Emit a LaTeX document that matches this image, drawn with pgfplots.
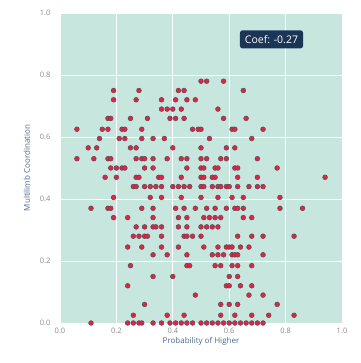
\documentclass[border=0pt]{standalone}
\usepackage{pgfplots}
\pgfplotsset{compat=1.18}
\usepackage{pgfplotstable}
\usepackage{fontspec}
\setmainfont{Open Sans}
\definecolor{bgc}{HTML}{C6E6DE}
\definecolor{ptc}{HTML}{E0234A}
\definecolor{ptl}{HTML}{5A4A50}
\definecolor{boxc}{HTML}{1B3556}
\definecolor{labc}{HTML}{4A6A8A}
\definecolor{tickc}{HTML}{8A8A8A}
\pgfplotstableread{
x y
0.50 0.78
0.52 0.78
0.58 0.78
0.19 0.75
0.28 0.75
0.42 0.75
0.44 0.75
0.65 0.75
0.19 0.72
0.27 0.72
0.36 0.72
0.41 0.72
0.45 0.72
0.48 0.72
0.36 0.69
0.38 0.69
0.40 0.69
0.43 0.69
0.56 0.69
0.17 0.66
0.18 0.66
0.25 0.66
0.31 0.66
0.39 0.66
0.41 0.66
0.44 0.66
0.58 0.66
0.66 0.66
0.06 0.625
0.15 0.625
0.17 0.625
0.22 0.625
0.23 0.625
0.29 0.625
0.47 0.625
0.49 0.625
0.50 0.625
0.61 0.625
0.62 0.625
0.72 0.625
0.14 0.595
0.21 0.595
0.23 0.595
0.29 0.595
0.33 0.595
0.37 0.595
0.53 0.595
0.68 0.595
0.10 0.565
0.13 0.565
0.25 0.565
0.27 0.565
0.40 0.565
0.50 0.565
0.59 0.565
0.62 0.565
0.06 0.53
0.12 0.53
0.17 0.53
0.18 0.53
0.27 0.53
0.29 0.53
0.30 0.53
0.33 0.53
0.38 0.53
0.43 0.53
0.45 0.53
0.50 0.53
0.52 0.53
0.57 0.53
0.59 0.53
0.70 0.53
0.18 0.50
0.20 0.50
0.22 0.50
0.23 0.50
0.30 0.50
0.33 0.50
0.45 0.50
0.50 0.50
0.51 0.50
0.55 0.50
0.56 0.50
0.62 0.50
0.63 0.50
0.77 0.50
0.16 0.47
0.20 0.47
0.27 0.47
0.28 0.47
0.35 0.47
0.36 0.47
0.43 0.47
0.50 0.47
0.51 0.47
0.54 0.47
0.55 0.47
0.63 0.47
0.70 0.47
0.94 0.47
0.26 0.44
0.27 0.44
0.30 0.44
0.32 0.44
0.34 0.44
0.36 0.44
0.40 0.44
0.42 0.44
0.44 0.44
0.46 0.44
0.50 0.44
0.51 0.44
0.54 0.44
0.56 0.44
0.57 0.44
0.59 0.44
0.60 0.44
0.63 0.44
0.67 0.44
0.70 0.44
0.72 0.44
0.19 0.405
0.32 0.405
0.36 0.405
0.43 0.405
0.50 0.405
0.56 0.405
0.61 0.405
0.65 0.405
0.78 0.405
0.11 0.37
0.17 0.37
0.18 0.37
0.29 0.37
0.33 0.37
0.41 0.37
0.44 0.37
0.48 0.37
0.52 0.37
0.55 0.37
0.59 0.37
0.62 0.37
0.63 0.37
0.65 0.37
0.78 0.37
0.86 0.37
0.19 0.34
0.24 0.34
0.33 0.34
0.42 0.34
0.45 0.34
0.51 0.34
0.53 0.34
0.55 0.34
0.57 0.34
0.65 0.34
0.68 0.34
0.27 0.31
0.30 0.31
0.33 0.31
0.34 0.31
0.36 0.31
0.42 0.31
0.45 0.31
0.50 0.31
0.52 0.31
0.54 0.31
0.56 0.31
0.26 0.28
0.28 0.28
0.30 0.28
0.31 0.28
0.36 0.28
0.44 0.28
0.45 0.28
0.47 0.28
0.50 0.28
0.63 0.28
0.68 0.28
0.72 0.28
0.83 0.28
0.24 0.245
0.29 0.245
0.36 0.245
0.42 0.245
0.51 0.245
0.56 0.245
0.59 0.245
0.60 0.245
0.61 0.245
0.64 0.245
0.67 0.245
0.33 0.22
0.38 0.22
0.45 0.22
0.54 0.22
0.56 0.22
0.58 0.22
0.61 0.22
0.62 0.22
0.63 0.22
0.72 0.22
0.25 0.185
0.45 0.185
0.46 0.185
0.55 0.185
0.57 0.185
0.61 0.185
0.63 0.185
0.68 0.185
0.33 0.15
0.40 0.15
0.60 0.15
0.63 0.15
0.24 0.12
0.59 0.12
0.60 0.12
0.64 0.12
0.68 0.12
0.48 0.09
0.67 0.09
0.72 0.09
0.30 0.06
0.57 0.06
0.60 0.06
0.63 0.06
0.77 0.06
0.26 0.025
0.38 0.025
0.44 0.025
0.57 0.025
0.62 0.025
0.68 0.025
0.74 0.025
0.83 0.025
0.11 0.0
0.24 0.0
0.26 0.0
0.28 0.0
0.29 0.0
0.33 0.0
0.36 0.0
0.39 0.0
0.41 0.0
0.43 0.0
0.45 0.0
0.47 0.0
0.50 0.0
0.52 0.0
0.54 0.0
0.56 0.0
0.58 0.0
0.60 0.0
0.62 0.0
0.64 0.0
0.66 0.0
0.68 0.0
0.70 0.0
0.72 0.0
}\datatable
\begin{document}
\begin{tikzpicture}
\begin{axis}[
  name=ax,
  scale only axis,
  width=282pt, height=310pt,
  xmin=0, xmax=1, ymin=0, ymax=1,
  axis background/.style={fill=bgc},
  axis line style={draw=none},
  major tick length=0pt,
  grid=major,
  grid style={white, line width=0.8pt},
  xtick={0,0.2,0.4,0.6,0.8,1},
  ytick={0,0.2,0.4,0.6,0.8,1},
  /pgf/number format/.cd, fixed, fixed zerofill, precision=1, assume math mode=true,
  /pgfplots/.cd,
  tick label style={font=\fontsize{7.5}{8}\selectfont, text=tickc},
  xticklabel style={yshift=-2pt},
  yticklabel style={xshift=-6pt},
  xlabel={Probability of Higher},
  ylabel={Multilimb Coordination},
  label style={font=\fontsize{8}{9}\selectfont, text=labc},
  xlabel style={yshift=4pt},
  ylabel style={yshift=3pt},
  clip=false,
]
\addplot[only marks, mark=*, mark size=2.4pt, mark options={fill=ptc, draw=ptl, line width=0.5pt}] table[x=x, y=y] {\datatable};
\node[fill=boxc, text=white, rounded corners=2.5pt, inner xsep=5pt, inner ysep=5pt, font=\fontsize{10.5}{12}\selectfont] at (rel axis cs:0.75,0.915) {Coef: -0.27};
\end{axis}
\path[use as bounding box] ([xshift=-60pt,yshift=-40pt]ax.south west) rectangle ++(360pt,363pt);
\end{tikzpicture}
\end{document}
